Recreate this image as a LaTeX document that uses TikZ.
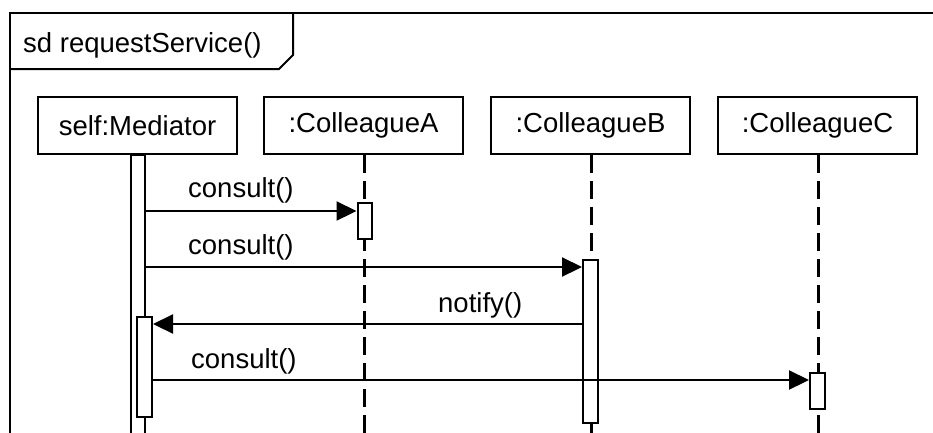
\documentclass[tikz,border=0pt]{standalone}
\usepackage{fontspec}
\setmainfont{Liberation Sans}
\usetikzlibrary{arrows.meta}
\begin{document}
\begin{tikzpicture}[x=1pt,y=-1pt,
  every node/.style={font=\fontsize{27.5}{33}\selectfont},
  head/.style={draw,line width=2pt,minimum width=199pt,minimum height=57pt,inner sep=0pt},
  lifeline/.style={line width=3pt,dash pattern=on 18pt off 8pt},
  actbox/.style={draw,fill=white,line width=2pt,inner sep=0pt},
  msg/.style={line width=2.2pt,-{Triangle[length=20pt,width=19pt]}},
  lbl/.style={anchor=base west,inner sep=0pt}]
\useasboundingbox (0,0) rectangle (933,432);
% frame
\draw[line width=2pt] (933,13) -- (10,13) -- (10,440);
\draw[line width=2pt] (10,69) -- (279,69) -- (293,55) -- (293,13);
\node[lbl] (title) at (23,52) {sd requestService()};
% heads
\node[head] (med) at (137.5,125.5) {self:Mediator};
\node[head] (ca) at (363.5,125.5) {:ColleagueA};
\node[head] (cb) at (590.5,125.5) {:ColleagueB};
\node[head] (cc) at (817.5,125.5) {:ColleagueC};
% lifelines
\coordinate (endA) at (364.5,440);
\coordinate (endB) at (591,440);
\coordinate (endC) at (818.5,440);
\draw[lifeline] (ca.south -| endA) -- (endA);
\draw[lifeline] (cb.south -| endB) -- (endB);
\draw[lifeline] (cc.south -| endC) -- (endC);
% activations
\node[actbox,minimum width=14pt,minimum height=300pt,anchor=north] (actM) at (138,154) {};
\node[actbox,minimum width=15pt,minimum height=100pt] (actM2) at (144.5,367) {};
\node[actbox,minimum width=14pt,minimum height=36pt] (actA) at (364.5,221) {};
\node[actbox,minimum width=15pt,minimum height=163pt] (actB) at (590.5,341.5) {};
\node[actbox,minimum width=15pt,minimum height=36pt] (actC) at (817.5,391) {};
% messages
\draw[msg] (actM.east |- 0,211) -- (actA.west |- 0,211);
\node[lbl] (l1) at (188,197) {consult()};
\draw[msg] (actM.east |- 0,267) -- (actB.west |- 0,267);
\node[lbl] (l2) at (188,254) {consult()};
\draw[msg] (actB.west |- 0,324) -- (actM2.east |- 0,324);
\node[lbl] (l3) at (438,312) {notify()};
\draw[msg] (actM2.east |- 0,380) -- (actC.west |- 0,380);
\node[lbl] (l4) at (191,368) {consult()};
\end{tikzpicture}
\end{document}
